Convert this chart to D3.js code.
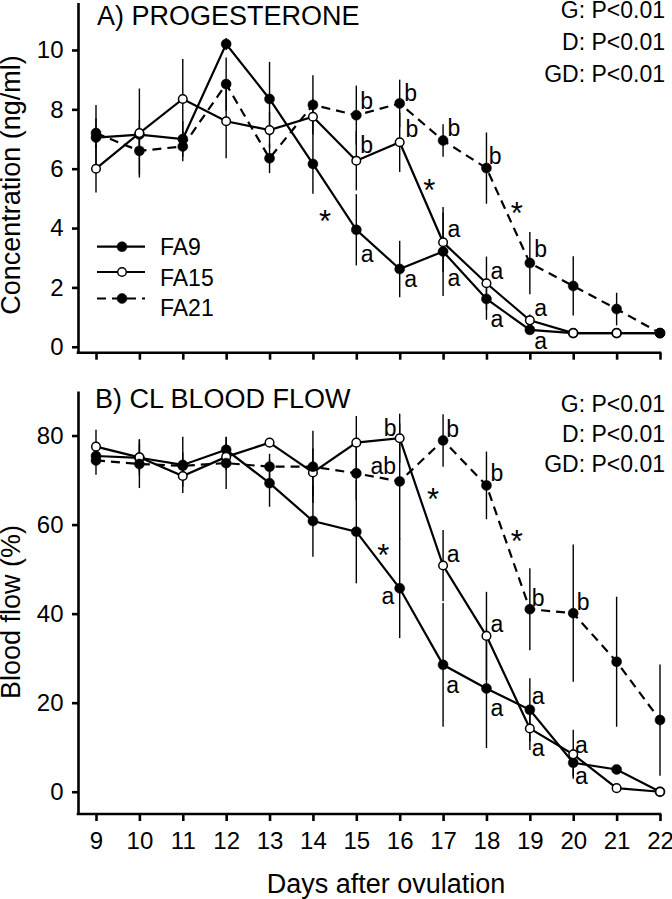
<!DOCTYPE html>
<html><head><meta charset="utf-8">
<script src="https://cdn.jsdelivr.net/npm/d3@7/dist/d3.min.js"></script>
<style>
body{margin:0;background:#fff}
svg text{font-family:Arial,"Liberation Sans",Helvetica,sans-serif;fill:#000}
</style>
</head><body>
<svg id="chart" width="672" height="899"></svg>
<script>
// ---------------- DATA ----------------
const days = [9, 10, 11, 12, 13, 14, 15, 16, 17, 18, 19, 20, 21, 22];
const seriesNames = ["FA9", "FA15", "FA21"];

// Panel A: progesterone (ng/ml)
const progFA9  = [7.05, 7.15, 7.0, 10.2, 8.35, 6.16, 3.94, 2.62, 3.21, 1.61, 0.57, 0.46, 0.46, 0.46];
const progFA15 = [6.0, 7.2, 8.35, 7.6, 7.3, 7.75, 6.27, 6.89, 3.52, 2.14, 0.89, 0.46, 0.46, 0.46];
const progFA21 = [7.2, 6.6, 6.75, 8.85, 6.35, 8.15, 7.8, 8.2, 6.95, 6.02, 2.82, 2.05, 1.27, 0.46];
const progErrFA9  = [1.1, 0.5, 0.6, 0.2, 1.25, 1.0, 1.2, 0.95, 1.5, 0.7, 0.15, 0, 0, 0];
const progErrFA15 = [0.8, 1.5, 1.35, 1.25, 0.6, 0.6, 1.0, 1.0, 1.0, 0.9, 0.2, 0, 0, 0];
const progErrFA21 = [0.5, 0.8, 0.5, 0.9, 0.5, 1.0, 1.0, 0.8, 0.55, 1.2, 1.05, 1.0, 0.55, 0];

// Panel B: CL blood flow (%)
const flowFA9  = [75.4, 75.0, 73.4, 76.8, 69.3, 60.8, 58.4, 45.7, 28.5, 23.2, 18.4, 6.5, 5.0, 0];
const flowFA15 = [77.5, 75.1, 70.9, 75.2, 78.4, 71.7, 78.4, 79.4, 50.8, 35.0, 14.2, 8.4, 0.8, 0];
const flowFA21 = [74.4, 73.6, 73.2, 73.8, 73.0, 73.0, 71.5, 69.7, 78.9, 68.8, 41.0, 40.1, 29.2, 16.1];
const flowErrFA9  = [2, 3, 6.3, 2.9, 5.3, 8, 11.6, 11.2, 13.9, 13.4, 7.1, 3.1, 0.5, 0];
const flowErrFA15 = [3.8, 4.1, 2.4, 3, 1, 5.4, 6, 5.5, 8, 9.9, 4.8, 5.5, 0, 0];
const flowErrFA21 = [3.2, 5.4, 3, 5.8, 2.9, 8.1, 6, 13, 5.9, 7.6, 9.2, 15.4, 14.6, 12.5];

// Tick labels
const progTicks = [0, 2, 4, 6, 8, 10];
const flowTicks = [0, 20, 40, 60, 80];

// Significance labels: [day, value, label]
const progLabels = [
  [15.24, 8.26, "b"], [16.25, 8.54, "b"], [16.28, 7.31, "b"], [15.24, 6.80, "b"],
  [17.25, 7.36, "b"], [18.20, 6.41, "b"], [16.68, 5.53, "*"], [18.70, 4.78, "*"],
  [14.28, 4.50, "*"], [17.25, 3.94, "a"], [19.25, 3.27, "b"], [15.25, 3.10, "a"],
  [16.25, 2.26, "a"], [17.25, 2.29, "a"], [18.24, 2.54, "a"], [18.24, 0.91, "a"],
  [19.25, 1.30, "a"], [19.25, 0.18, "a"]
];
const flowLabels = [
  [15.78, 81.7, "b"], [17.22, 81.3, "b"], [15.62, 73.0, "ab"], [16.77, 67.4, "*"],
  [18.24, 71.6, "b"], [15.62, 54.8, "*"], [17.23, 53.2, "a"], [18.70, 58.1, "*"],
  [15.73, 43.9, "a"], [19.19, 43.5, "b"], [20.23, 42.5, "b"], [18.24, 37.5, "a"],
  [17.22, 23.8, "a"], [18.24, 18.8, "a"], [19.19, 21.3, "a"], [19.19, 9.8, "a"],
  [20.19, 10.5, "a"], [20.19, 3.4, "a"]
];
const statsText = ["G: P<0.01", "D: P<0.01", "GD: P<0.01"];

// ---------------- DRAWING ----------------
const svg = d3.select("#chart");
const AXIS_X = 78;
const x = d3.scaleLinear().domain([9, 22]).range([96, 660]);

const styles = {
  FA9:  {fill: "#000", dash: null},
  FA15: {fill: "#fff", dash: null},
  FA21: {fill: "#000", dash: "9,6"}
};

function panel(cfg) {
  const g = svg.append("g");
  const y = cfg.y;
  const [yBottom, yTop] = y.range();

  // left axis
  const la = g.append("g").attr("transform", `translate(${AXIS_X},0)`)
    .call(d3.axisLeft(y).tickValues(cfg.ticks).tickSize(6).tickSizeOuter(0).tickPadding(8.5));
  la.selectAll("path,line").attr("stroke", "#000").attr("stroke-width", 2.6);
  la.selectAll("text").attr("font-size", 24).attr("fill", "#000");
  la.attr("font-family", null);

  // bottom axis
  const ba = g.append("g").attr("transform", `translate(0,${yBottom})`)
    .call(d3.axisBottom(x).tickValues(days).tickSize(7).tickSizeOuter(0).tickPadding(10.5)
      .tickFormat(cfg.xLabels ? d3.format("d") : ""));
  ba.select(".domain").remove();
  ba.selectAll("line").attr("stroke", "#000").attr("stroke-width", 2.6);
  ba.selectAll("text").attr("font-size", 24).attr("fill", "#000");
  ba.attr("font-family", null);
  g.append("line").attr("x1", AXIS_X - 1.3).attr("x2", x(22) + 1.3)
    .attr("y1", yBottom).attr("y2", yBottom).attr("stroke", "#000").attr("stroke-width", 2.6);

  // error bars
  cfg.series.forEach(s => {
    g.append("g").selectAll("line").data(days.map((d, i) => ({d, v: s.values[i], e: s.errs[i]})).filter(p => p.e > 0))
      .join("line")
      .attr("x1", p => x(p.d)).attr("x2", p => x(p.d))
      .attr("y1", p => y(p.v - p.e)).attr("y2", p => y(p.v + p.e))
      .attr("stroke", "#000").attr("stroke-width", 1.4);
  });

  // lines
  const line = d3.line().x((v, i) => x(days[i])).y(v => y(v));
  cfg.series.forEach(s => {
    g.append("path").datum(s.values).attr("d", line)
      .attr("fill", "none").attr("stroke", "#000").attr("stroke-width", 2.2)
      .attr("stroke-dasharray", styles[s.name].dash);
  });

  // markers
  cfg.series.forEach(s => {
    const st = styles[s.name];
    g.append("g").selectAll("circle").data(s.values).join("circle")
      .attr("cx", (v, i) => x(days[i])).attr("cy", v => y(v))
      .attr("r", s.name === "FA15" ? 4.3 : 5)
      .attr("fill", st.fill).attr("stroke", "#000").attr("stroke-width", s.name === "FA15" ? 1.5 : 0.5);
  });

  // significance labels
  g.append("g").selectAll("text").data(cfg.labels).join("text")
    .attr("x", d => x(d[0])).attr("y", d => y(d[1]))
    .attr("dy", d => d[2] === "*" ? "0.6em" : "0.33em")
    .attr("text-anchor", "middle").attr("font-size", d => d[2] === "*" ? 31 : 23)
    .text(d => d[2]);

  // title
  g.append("text").attr("x", cfg.titleX).attr("y", cfg.titleY).attr("font-size", 27).text(cfg.title);

  // stats
  g.append("g").selectAll("text").data(statsText).join("text")
    .attr("x", 665).attr("y", (d, i) => cfg.statsY + i * cfg.statsGap)
    .attr("text-anchor", "end").attr("font-size", 23).text(d => d);

  // y label
  g.append("text").attr("transform", `translate(20,${cfg.ylabelY}) rotate(-90)`)
    .attr("text-anchor", "middle").attr("font-size", 27).text(cfg.ylabel);
}

panel({
  y: d3.scaleLinear().domain([-0.2, 11.6]).range([352.7, 2.5]),
  ticks: progTicks, xLabels: false,
  series: [
    {name: "FA9", values: progFA9, errs: progErrFA9},
    {name: "FA15", values: progFA15, errs: progErrFA15},
    {name: "FA21", values: progFA21, errs: progErrFA21}
  ],
  labels: progLabels,
  title: "A) PROGESTERONE", titleX: 97, titleY: 25,
  statsY: 18.3, statsGap: 31.7,
  ylabel: "Concentration (ng/ml)", ylabelY: 185
});

panel({
  y: d3.scaleLinear().domain([-5, 90]).range([814, 391]),
  ticks: flowTicks, xLabels: true,
  series: [
    {name: "FA9", values: flowFA9, errs: flowErrFA9},
    {name: "FA15", values: flowFA15, errs: flowErrFA15},
    {name: "FA21", values: flowFA21, errs: flowErrFA21}
  ],
  labels: flowLabels,
  title: "B) CL BLOOD FLOW", titleX: 95, titleY: 408,
  statsY: 411.7, statsGap: 30,
  ylabel: "Blood flow (%)", ylabelY: 612
});

// x axis title
svg.append("text").attr("x", 386).attr("y", 893).attr("text-anchor", "middle")
  .attr("font-size", 27).text("Days after ovulation");

// legend
const legY = [246.7, 272, 298.5];
const legTextY = [255, 285.7, 316];
const leg = svg.append("g");
seriesNames.forEach((n, i) => {
  const st = styles[n];
  leg.append("line").attr("x1", 97).attr("x2", 145).attr("y1", legY[i]).attr("y2", legY[i])
    .attr("stroke", "#000").attr("stroke-width", 2.2).attr("stroke-dasharray", st.dash);
  leg.append("circle").attr("cx", 122).attr("cy", legY[i]).attr("r", n === "FA15" ? 4.3 : 5)
    .attr("fill", st.fill).attr("stroke", "#000").attr("stroke-width", n === "FA15" ? 1.5 : 0.5);
  leg.append("text").attr("x", 160).attr("y", legTextY[i]).attr("font-size", 23).text(n);
});
</script>
</body></html>
